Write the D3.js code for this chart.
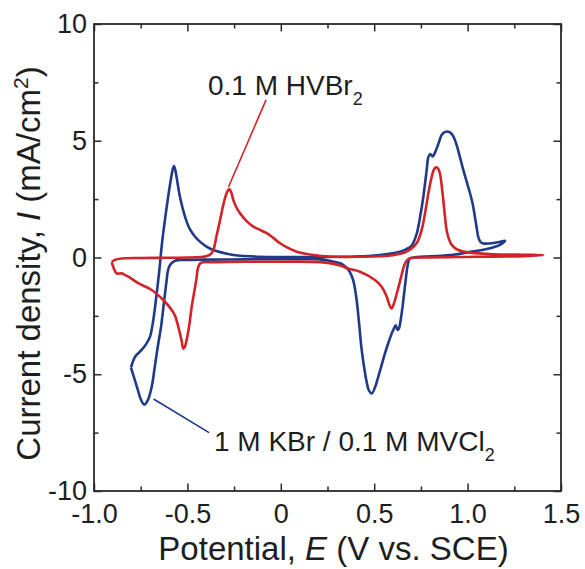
<!DOCTYPE html>
<html>
<head>
<meta charset="utf-8">
<script src="https://cdn.jsdelivr.net/npm/d3@7"></script>
<style>
  body { margin: 0; background: #fff; }
  text { font-family: "Liberation Sans", Arial, Helvetica, sans-serif; fill: #1e1e1e; }
</style>
</head>
<body>
<svg id="chart" width="585" height="569"></svg>
<script>
// Cyclic voltammograms: potential E (V vs. SCE) and current density I (mA/cm2)

// 1 M KBr / 0.1 M MVCl2 — closed loop starting at the negative vertex
const blueE = [
  -0.802, -0.78, -0.745, -0.72, -0.70, -0.685, -0.673, -0.652, -0.634, -0.608, -0.589, -0.578, -0.572,
  -0.565, -0.557, -0.54, -0.518, -0.50, -0.486, -0.46, -0.433, -0.40, -0.361, -0.30, -0.254, -0.111,
  0.0, 0.2, 0.4, 0.531, 0.60, 0.638, 0.67, 0.70, 0.727, 0.745, 0.763, 0.781, 0.79, 0.80, 0.813, 0.826,
  0.845, 0.861, 0.88, 0.897, 0.91, 0.923, 0.94, 0.959, 0.977, 0.995, 1.013, 1.027, 1.04, 1.05, 1.058,
  1.07, 1.084, 1.138, 1.17, 1.20,
  1.173, 1.102, 1.013, 0.923, 0.80, 0.72, 0.69, 0.68, 0.668, 0.655, 0.645, 0.632, 0.625, 0.615, 0.605,
  0.594, 0.576, 0.558, 0.54, 0.522, 0.505, 0.487, 0.472, 0.46, 0.446, 0.433, 0.42, 0.406, 0.39, 0.38,
  0.36, 0.335, 0.317, 0.26, 0.21, 0.0, -0.2, -0.4, -0.5, -0.54, -0.566, -0.593, -0.605, -0.611, -0.624,
  -0.641, -0.654, -0.664, -0.677, -0.691, -0.713, -0.731, -0.748, -0.768, -0.79, -0.802
];
const blueI = [
  -4.72, -4.25, -3.96, -3.70, -3.39, -2.80, -2.11, -0.68, 0.75, 2.32, 3.32, 3.80, 3.92,
  3.75, 3.40, 2.60, 1.89, 1.45, 1.20, 0.90, 0.68, 0.48, 0.32, 0.18, 0.11, 0.03,
  0.02, 0.02, 0.04, 0.11, 0.18, 0.25, 0.35, 0.50, 1.00, 1.70, 2.60, 3.75, 4.30, 4.43, 4.33, 4.50,
  4.90, 5.25, 5.38, 5.39, 5.33, 5.20, 4.85, 4.30, 3.75, 3.25, 2.75, 2.30, 1.70, 1.20, 0.85,
  0.66, 0.60, 0.62, 0.66, 0.72,
  0.54, 0.36, 0.24, 0.12, 0.05, 0.01, -0.05, -0.30, -1.00, -1.90, -2.50, -3.05, -3.10, -2.90, -3.05,
  -3.25, -3.65, -4.10, -4.60, -5.10, -5.55, -5.82, -5.70, -5.35, -4.70, -3.96, -2.90, -1.82, -1.05, -0.80,
  -0.50, -0.32, -0.25, -0.14, -0.08, -0.07, -0.08, -0.09, -0.10, -0.11, -0.14, -0.32, -0.60, -0.96, -1.82,
  -2.96, -3.60, -4.10, -4.82, -5.53, -6.13, -6.30, -6.10, -5.60, -5.03, -4.72
];

// 0.1 M HVBr2 — closed loop starting at the negative vertex
const redE = [
  -0.905, -0.888, -0.85, -0.75, -0.60, -0.50, -0.43, -0.40, -0.374, -0.361, -0.343, -0.325, -0.308,
  -0.29, -0.276, -0.264, -0.254, -0.236, -0.218, -0.183, -0.147, -0.111, -0.075, -0.04, -0.004, 0.039,
  0.085, 0.174, 0.263, 0.42, 0.60, 0.673, 0.727, 0.754, 0.772, 0.79, 0.808, 0.822, 0.833, 0.843, 0.852,
  0.866, 0.879, 0.891, 0.915, 0.95, 1.013, 1.138, 1.30, 1.405,
  1.30, 1.049, 0.78, 0.692, 0.677, 0.665, 0.656, 0.645, 0.629, 0.612, 0.60, 0.594, 0.585, 0.567, 0.54,
  0.504, 0.424, 0.353, 0.317, 0.21, 0.0, -0.183, -0.35, -0.43, -0.445, -0.45, -0.464, -0.477, -0.49,
  -0.504, -0.515, -0.522, -0.53, -0.549, -0.566, -0.584, -0.629, -0.691, -0.763, -0.816, -0.84, -0.852,
  -0.879, -0.895, -0.905
];
const redI = [
  -0.20, -0.10, -0.04, -0.02, -0.01, 0.0, 0.02, 0.05, 0.15, 0.32, 0.96, 1.60, 2.25,
  2.75, 2.93, 2.76, 2.46, 2.12, 1.89, 1.56, 1.32, 1.18, 1.04, 0.84, 0.61, 0.41,
  0.25, 0.11, 0.04, 0.03, 0.10, 0.25, 0.61, 1.18, 1.89, 2.75, 3.46, 3.80, 3.86, 3.80, 3.60,
  2.75, 1.75, 1.04, 0.54, 0.32, 0.21, 0.14, 0.12, 0.11,
  0.06, 0.03, 0.0, -0.03, -0.11, -0.25, -0.45, -0.80, -1.30, -1.80, -2.10, -2.18, -2.10, -1.68, -1.25,
  -0.96, -0.61, -0.46, -0.34, -0.20, -0.18, -0.18, -0.20, -0.24, -0.50, -0.82, -1.50, -2.11, -2.90,
  -3.53, -3.85, -3.90, -3.60, -2.96, -2.50, -2.25, -1.82, -1.39, -1.10, -0.82, -0.72, -0.68,
  -0.68, -0.45, -0.20
];

// Axis ticks and labels
const xMajor = [-1.0, -0.5, 0, 0.5, 1.0, 1.5];
const xLabels = ["-1.0", "-0.5", "0", "0.5", "1.0", "1.5"];
const xMinor = [-0.75, -0.25, 0.25, 0.75, 1.25];
const yMajor = [-10, -5, 0, 5, 10];
const yLabels = ["-10", "-5", "0", "5", "10"];
const yMinor = [-7.5, -2.5, 2.5, 7.5];

// Curve annotations: label anchor and leader line, in data units
const redNote = { text: "0.1 M HVBr", sub: "2", at: [-0.39, 6.96], from: [-0.079, 6.75], to: [-0.28, 3.02] };
const blueNote = { text: "1 M KBr / 0.1 M MVCl", sub: "2", at: [-0.358, -8.29], from: [-0.681, -6.06], to: [-0.384, -7.5] };

const blueColor = "#1f3a8a";
const redColor = "#d2232b";
const axisColor = "#2a2a2a";

const svg = d3.select("#chart");
const x = d3.scaleLinear().domain([-1, 1.5]).range([94, 561]);
const y = d3.scaleLinear().domain([-10, 10]).range([491, 24]);
const [x0, x1] = x.range();
const [y0, y1] = y.range();

function styleAxis(g) {
  g.select(".domain").remove();
  g.selectAll(".tick line").attr("stroke", axisColor).attr("stroke-width", 1.5);
  g.selectAll(".tick text").attr("fill", "#1e1e1e").style("font-size", "27px");
}

const majorLen = 7.5, minorLen = 4.5;
const fmtX = d => xLabels[xMajor.indexOf(d)];
const fmtY = d => yLabels[yMajor.indexOf(d)];

// bottom
svg.append("g").attr("transform", `translate(0,${y0})`)
  .call(d3.axisBottom(x).tickValues(xMajor).tickFormat(fmtX).tickSizeInner(-majorLen).tickSizeOuter(0).tickPadding(13))
  .call(styleAxis);
svg.append("g").attr("transform", `translate(0,${y0})`)
  .call(d3.axisBottom(x).tickValues(xMinor).tickFormat("").tickSizeInner(-minorLen).tickSizeOuter(0))
  .call(styleAxis);
// top
svg.append("g").attr("transform", `translate(0,${y1})`)
  .call(d3.axisTop(x).tickValues(xMajor).tickFormat("").tickSizeInner(-majorLen).tickSizeOuter(0))
  .call(styleAxis);
svg.append("g").attr("transform", `translate(0,${y1})`)
  .call(d3.axisTop(x).tickValues(xMinor).tickFormat("").tickSizeInner(-minorLen).tickSizeOuter(0))
  .call(styleAxis);
// left
svg.append("g").attr("transform", `translate(${x0},0)`)
  .call(d3.axisLeft(y).tickValues(yMajor).tickFormat(fmtY).tickSizeInner(-majorLen).tickSizeOuter(0).tickPadding(7))
  .call(styleAxis);
svg.append("g").attr("transform", `translate(${x0},0)`)
  .call(d3.axisLeft(y).tickValues(yMinor).tickFormat("").tickSizeInner(-minorLen).tickSizeOuter(0))
  .call(styleAxis);
// right
svg.append("g").attr("transform", `translate(${x1},0)`)
  .call(d3.axisRight(y).tickValues(yMajor).tickFormat("").tickSizeInner(-majorLen).tickSizeOuter(0))
  .call(styleAxis);
svg.append("g").attr("transform", `translate(${x1},0)`)
  .call(d3.axisRight(y).tickValues(yMinor).tickFormat("").tickSizeInner(-minorLen).tickSizeOuter(0))
  .call(styleAxis);

// plot frame
svg.append("rect")
  .attr("x", x0).attr("y", y1)
  .attr("width", x1 - x0).attr("height", y0 - y1)
  .attr("fill", "none").attr("stroke", axisColor).attr("stroke-width", 1.8);

// voltammograms
const line = d3.line()
  .x(d => x(d[0]))
  .y(d => y(d[1]))
  .curve(d3.curveCatmullRom.alpha(0.5));

svg.append("path")
  .datum(d3.zip(blueE, blueI))
  .attr("d", line)
  .attr("fill", "none").attr("stroke", blueColor).attr("stroke-width", 2.6)
  .attr("stroke-linejoin", "round");

svg.append("path")
  .datum(d3.zip(redE, redI))
  .attr("d", line)
  .attr("fill", "none").attr("stroke", redColor).attr("stroke-width", 2.6)
  .attr("stroke-linejoin", "round");

// annotations
function annotate(note, color) {
  svg.append("line")
    .attr("x1", x(note.from[0])).attr("y1", y(note.from[1]))
    .attr("x2", x(note.to[0])).attr("y2", y(note.to[1]))
    .attr("stroke", color).attr("stroke-width", 1.6);
  const t = svg.append("text")
    .attr("x", x(note.at[0])).attr("y", y(note.at[1]))
    .style("font-size", "28px");
  t.append("tspan").text(note.text);
  t.append("tspan").attr("dy", 10).style("font-size", "18px").text(note.sub);
}
annotate(redNote, redColor);
annotate(blueNote, blueColor);

// axis titles
const xt = svg.append("text")
  .attr("x", (x0 + x1) / 2 + 6).attr("y", 560)
  .attr("text-anchor", "middle")
  .style("font-size", "33px");
xt.append("tspan").text("Potential, ");
xt.append("tspan").style("font-style", "italic").text("E");
xt.append("tspan").text(" (V vs. SCE)");

const yt = svg.append("text")
  .attr("transform", `translate(40,${(y0 + y1) / 2 + 6}) rotate(-90)`)
  .attr("text-anchor", "middle")
  .style("font-size", "33px");
yt.append("tspan").text("Current density, ");
yt.append("tspan").style("font-style", "italic").text("I");
yt.append("tspan").text(" (mA/cm");
yt.append("tspan").attr("dy", -12).style("font-size", "21px").text("2");
yt.append("tspan").attr("dy", 12).text(")");
</script>
</body>
</html>
